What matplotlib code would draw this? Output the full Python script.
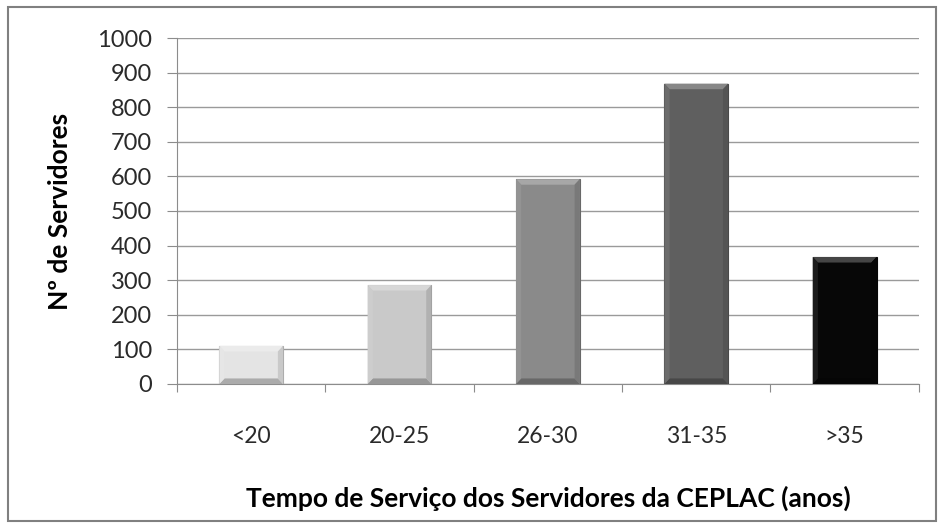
import matplotlib.pyplot as plt
from matplotlib.patches import Polygon, Rectangle
import matplotlib.colors as mcolors
import numpy as np

plt.rcParams['font.family'] = ['Lato', 'DejaVu Sans']

categorias = ['<20', '20-25', '26-30', '31-35', '>35']
servidores = [110, 286, 592, 868, 367]
cores = ['#e4e4e4', '#c9c9c9', '#8a8a8a', '#5f5f5f', '#070707']


def tom(cor, f):
    r, g, b = mcolors.to_rgb(cor)
    if f > 0:
        return (r + (1 - r) * f, g + (1 - g) * f, b + (1 - b) * f)
    return (r * (1 + f), g * (1 + f), b * (1 + f))


fig = plt.figure(figsize=(9.39, 5.25), dpi=100)
ax = fig.add_axes([0.1885, 0.2686, 0.79, 0.659])

x = np.arange(len(categorias))
largura = 0.43
barras = ax.bar(x, servidores, width=largura, color=cores, zorder=3,
                edgecolor=[tom(c, -0.25) for c in cores], linewidth=0.8)

# bevel
dx, dy = 0.035, 16
for b, c in zip(barras, cores):
    x0, x1 = b.get_x(), b.get_x() + b.get_width()
    y1 = b.get_height()
    topo = [(x0, y1), (x1, y1), (x1 - dx, y1 - dy), (x0 + dx, y1 - dy)]
    base = [(x0, 0), (x1, 0), (x1 - dx, dy), (x0 + dx, dy)]
    esq = [(x0, 0), (x0 + dx, dy), (x0 + dx, y1 - dy), (x0, y1)]
    dir_ = [(x1, 0), (x1 - dx, dy), (x1 - dx, y1 - dy), (x1, y1)]
    ax.add_patch(Polygon(topo, closed=True, color=tom(c, 0.25), lw=0, zorder=4))
    ax.add_patch(Polygon(base, closed=True, color=tom(c, -0.25), lw=0, zorder=4))
    ax.add_patch(Polygon(esq, closed=True, color=tom(c, 0.08), lw=0, zorder=4))
    ax.add_patch(Polygon(dir_, closed=True, color=tom(c, -0.12), lw=0, zorder=4))

ax.set_xlim(-0.5, len(categorias) - 0.5)
ax.set_ylim(0, 1000)
ax.set_yticks(range(0, 1001, 100))
ax.set_xticks(np.arange(-0.5, len(categorias)), labels=[''] * (len(categorias) + 1))
ax.set_xticks(x, labels=categorias, minor=True)
ax.tick_params(axis='x', which='major', length=6, color='#8c8c8c', direction='out')
ax.tick_params(axis='x', which='minor', length=6, color='none', pad=24,
               labelsize=16.5, labelcolor='#2a2a2a')
ax.tick_params(axis='y', length=7, color='#8c8c8c', pad=11, labelsize=17,
               labelcolor='#2a2a2a')

ax.grid(axis='y', color='#9a9a9a', linewidth=1, zorder=0)
for s in ['top', 'right']:
    ax.spines[s].set_visible(False)
for s in ['left', 'bottom']:
    ax.spines[s].set_color('#8c8c8c')

ax.set_ylabel('Nº de Servidores', fontsize=19, fontweight='bold', labelpad=18)
ax.set_xlabel('Tempo de Serviço dos Servidores da CEPLAC (anos)', fontsize=19,
              fontweight='bold', labelpad=28)

fig.patches.append(Rectangle((0.009, 0.008), 0.988, 0.978, transform=fig.transFigure,
                             fill=False, edgecolor='#808080', linewidth=1.5))

fig.savefig('out.png', dpi=100)
